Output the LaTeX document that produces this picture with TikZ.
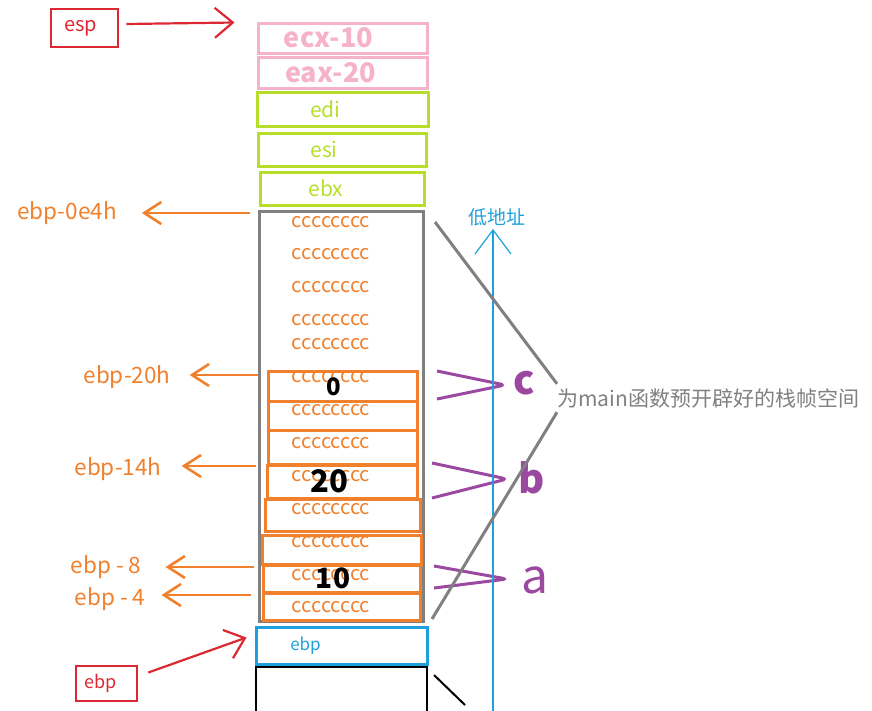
\documentclass[tikz,border=0pt]{standalone}
\usepackage{fontspec}
\setmainfont{Noto Sans CJK SC}
\usetikzlibrary{arrows.meta}

\definecolor{regred}{RGB}{220,40,50}
\definecolor{regpink}{RGB}{246,178,202}
\definecolor{reggreen}{RGB}{184,222,44}
\definecolor{framegray}{RGB}{128,128,128}
\definecolor{varorange}{RGB}{240,128,44}
\definecolor{varpurple}{RGB}{154,72,160}
\definecolor{addrblue}{RGB}{30,160,220}

\newcommand{\fsz}[1]{\fontsize{#1}{#1}\selectfont}

\tikzset{
    slot/.style={draw=#1, line width=3pt, inner sep=0pt},
    slottext/.style={text=#1, inner sep=0pt},
    fillc/.style={text=varorange, font=\fsz{20}, inner sep=0pt},
    offlbl/.style={text=varorange, font=\fsz{22.5}, inner sep=0pt},
    offarrow/.style={draw=varorange, line width=2.6pt, -{Straight Barb[length=17pt,width=22pt]}},
    regptr/.style={draw=regred, line width=2.2pt, -{Straight Barb[length=18pt,width=30pt]}},
    brace/.style={draw=varpurple, line width=3pt, rounded corners=5pt},
    varname/.style={text=varpurple, inner sep=0pt}
}

\begin{document}
\begin{tikzpicture}[x=1pt, y=-1pt]
    \useasboundingbox (0,0) rectangle (872,710);

    % Pushed registers
    \node[slot=regpink, minimum width=169, minimum height=30,
        label={[slottext=regpink, font=\bfseries\fsz{27}, xshift=-14pt]center:ecx-10}] (ecx) at (342.5,38) {};
    \node[slot=regpink, minimum width=169, minimum height=31,
        label={[slottext=regpink, font=\bfseries\fsz{27}, xshift=-12pt]center:eax-20}] (eax) at (342.5,72.5) {};
    \node[slot=reggreen, minimum width=171, minimum height=34,
        label={[slottext=reggreen, font=\fsz{21}, xshift=-17pt]center:edi}] (edi) at (342.5,109) {};
    \node[slot=reggreen, minimum width=168, minimum height=33,
        label={[slottext=reggreen, font=\fsz{21}, xshift=-18pt]center:esi}] (esi) at (342,149.5) {};
    \node[slot=reggreen, minimum width=164, minimum height=33,
        label={[slottext=reggreen, font=\fsz{21}, xshift=-16pt]center:ebx}] (ebx) at (342,188.5) {};

    % Reserved frame of main
    \node[slot=framegray, minimum width=164, minimum height=410] (frame) at (341,416) {};
    \foreach \y [count=\i] in {222,254,287,320,344,377,410,443,476,509,542,575,607}
        \node[fillc] (fill\i) at (331,\y) {cccccccc};

    % Local variables
    \node[slot=varorange, minimum width=149, minimum height=30] (o1) at (342.5,386) {};
    \node[slot=varorange, minimum width=149, minimum height=29] (o2) at (342.5,415.5) {};
    \node[slot=varorange, minimum width=149, minimum height=34] (o3) at (342.5,447) {};
    \node[slot=varorange, minimum width=150, minimum height=33] (o4) at (342,481.5) {};
    \node[slot=varorange, minimum width=155, minimum height=32] (o5) at (342.5,515) {};
    \node[slot=varorange, minimum width=159, minimum height=29] (o6) at (341.5,549.5) {};
    \node[slot=varorange, minimum width=157, minimum height=27] (o7) at (341.5,578.5) {};
    \node[slot=varorange, minimum width=157, minimum height=27] (o8) at (341.5,606.5) {};
    \node[inner sep=0pt, font=\bfseries\fsz{24}] (valc) at (334,387) {0};
    \node[inner sep=0pt, font=\bfseries\fsz{31}] (valb) at (329,481) {20};
    \node[inner sep=0pt, font=\bfseries\fsz{28}] (vala) at (333,578) {10};

    % Saved ebp and caller frame
    \node[slot=addrblue, minimum width=171, minimum height=37,
        label={[slottext=addrblue, font=\fsz{17}, xshift=-36pt]center:ebp}] (savedebp) at (341.5,645.5) {};
    \draw[line width=2.5pt] (256,740) -- (256,667) -- (427,667) -- (427,740);
    \coordinate (tick1) at (434,675);
    \coordinate (tick2) at (465,705);
    \draw[line width=2pt] (tick1) -- (tick2);

    % Register pointers
    \node[slot=regred, line width=2.6pt, minimum width=67, minimum height=38,
        label={[slottext=regred, font=\fsz{20}, xshift=-4pt]center:esp}] (esp) at (84.5,28) {};
    \draw[regptr] ([xshift=7pt,yshift=4pt]esp.east) -- ([xshift=-22pt,yshift=-1pt]ecx.north west);
    \node[slot=regred, line width=2.6pt, minimum width=61, minimum height=35,
        label={[slottext=regred, font=\fsz{18}, xshift=-6pt]center:ebp}] (ebpreg) at (106.5,683.5) {};
    \draw[regptr] ([xshift=10pt,yshift=11pt]ebpreg.east) -- ([xshift=-8pt,yshift=8pt]savedebp.west);

    % Offsets from ebp
    \node[offlbl] (l0e4h) at (67,213) {ebp-0e4h};
    \node[offlbl] (l20h) at (127,377) {ebp-20h};
    \node[offlbl] (l14h) at (118,469) {ebp-14h};
    \node[offlbl] (l8) at (106,567) {ebp - 8};
    \node[offlbl] (l4) at (110,599) {ebp - 4};
    \coordinate (s0e4h) at (250,213);
    \coordinate (s20h) at (258,375);
    \coordinate (s14h) at (256,466);
    \coordinate (s8) at (254,567);
    \coordinate (s4) at (251,595);
    \draw[offarrow, shorten >=25pt] (s0e4h) -- (s0e4h -| l0e4h.east);
    \draw[offarrow, shorten >=19pt] (s20h) -- (s20h -| l20h.east);
    \draw[offarrow, shorten >=20pt] (s14h) -- (s14h -| l14h.east);
    \draw[offarrow, shorten >=24pt] (s8) -- (s8 -| l8.east);
    \draw[offarrow, shorten >=16pt] (s4) -- (s4 -| l4.east);

    % Variable names
    \node[varname, font=\bfseries\fsz{40}] (nc) at (524,383) {c};
    \node[varname, font=\bfseries\fsz{40}] (nb) at (532,478) {b};
    \node[varname, font=\fsz{48}] (na) at (535,580) {a};
    \coordinate (c1) at (437,371); \coordinate (ctip) at (505,385); \coordinate (c2) at (437,399);
    \coordinate (b1) at (432,463); \coordinate (btip) at (507,479); \coordinate (b2) at (432,498);
    \coordinate (a1) at (434,566); \coordinate (atip) at (507,579); \coordinate (a2) at (434,588);
    \draw[brace] (c1) -- (ctip) -- (c2);
    \draw[brace] (b1) -- (btip) -- (b2);
    \draw[brace] (a1) -- (atip) -- (a2);

    % Low address direction
    \node[text=addrblue, font=\fsz{19}, inner sep=0pt] (lowaddr) at (497,217) {低地址};
    \coordinate (addrbot) at (493,712);
    \draw[addrblue, line width=1.2pt, -{Straight Barb[length=24pt,width=36pt]}]
        (addrbot) -- ([yshift=-3pt]addrbot |- lowaddr.south);

    % Frame note
    \node[anchor=west, text=framegray, font=\fsz{21}, inner sep=0pt, minimum height=28] (note) at (557,398)
        {为main函数预开辟好的栈帧空间};
    \coordinate (g1) at (435,222);
    \coordinate (g2) at (432,619);
    \draw[framegray, line width=3pt] (g1) -- (note.north west);
    \draw[framegray, line width=3pt] (g2) -- (note.south west);
\end{tikzpicture}
\end{document}
